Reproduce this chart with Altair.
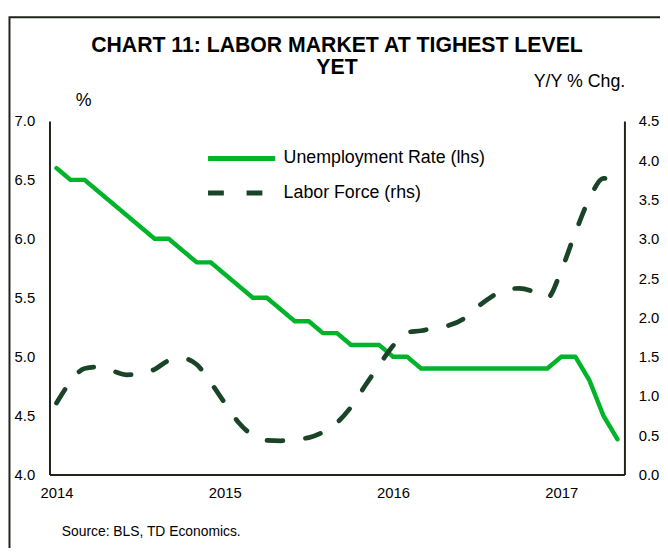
import altair as alt
import pandas as pd

# ---- data (monthly, Jan 2014 - May 2017) ----
x_index = list(range(41))
unemployment_rate = [6.6, 6.5, 6.5, 6.4, 6.3, 6.2, 6.1, 6.0, 6.0, 5.9,
                     5.8, 5.8, 5.7, 5.6, 5.5, 5.5, 5.4, 5.3, 5.3, 5.2,
                     5.2, 5.1, 5.1, 5.1, 5.0, 5.0, 4.9, 4.9, 4.9, 4.9,
                     4.9, 4.9, 4.9, 4.9, 4.9, 4.9, 5.0, 5.0, 4.8, 4.5,
                     4.3]
labor_force = [0.91, 1.18, 1.35, 1.37, 1.32, 1.27, 1.28, 1.34, 1.45, 1.48,
               1.40, 1.17, 0.91, 0.66, 0.50, 0.435, 0.43, 0.45, 0.47, 0.54,
               0.66, 0.86, 1.13, 1.39, 1.64, 1.81, 1.83, 1.87, 1.90, 1.98,
               2.13, 2.26, 2.35, 2.37, 2.33, 2.25, 2.60, 3.08, 3.51, 3.77,
               3.74]
series_names = ["Unemployment Rate (lhs)", "Labor Force (rhs)"]
series_colors = ["#00b42a", "#1a4427"]
year_tick_positions = [0, 12, 24, 36]
year_labels = ["2014", "2015", "2016", "2017"]
left_ticks = [4.0, 4.5, 5.0, 5.5, 6.0, 6.5, 7.0]
right_ticks = [0.0, 0.5, 1.0, 1.5, 2.0, 2.5, 3.0, 3.5, 4.0, 4.5]

df = pd.DataFrame({
    "idx": x_index * 2,
    "value": unemployment_rate + labor_force,
    "series": [series_names[0]] * len(x_index) + [series_names[1]] * len(x_index),
})

FONT = "Liberation Sans"
AXIS_COLOR = "#1e241a"

label_expr = "[" + ",".join(f"'{y}'" for y in year_labels) + "][round(datum.value/12)]"

legend = alt.Legend(
    title=None, orient="none", legendX=158, legendY=28,
    symbolType="stroke", symbolSize=4624, symbolStrokeWidth=5,
    labelFont=FONT, labelFontSize=18, labelColor="black", labelLimit=400,
    labelOffset=6, clipHeight=20, rowPadding=15, direction="vertical",
)

color = alt.Color("series:N", scale=alt.Scale(domain=series_names, range=series_colors),
                  legend=legend)
dash = alt.StrokeDash("series:N", scale=alt.Scale(domain=series_names, range=[[1, 0], [16, 23]]),
                      legend=legend)

x_enc = alt.X(
    "idx:Q",
    scale=alt.Scale(domain=[-0.5, 40.5], nice=False, zero=False),
    axis=alt.Axis(
        values=year_tick_positions, labelExpr=label_expr, ticks=False, grid=False,
        domainColor=AXIS_COLOR, domainWidth=2, labelFont=FONT, labelFontSize=15,
        labelColor="black", labelPadding=11,
        title="Source: BLS, TD Economics.", titleFont=FONT, titleFontSize=14,
        titleFontWeight="normal", titleColor="black", titleX=12, titleY=58,
        titleAlign="left", titleBaseline="middle",
    ),
)

base = alt.Chart(df).encode(x=x_enc, color=color, strokeDash=dash)

unemp = base.transform_filter(alt.datum.series == series_names[0]).mark_line(
    strokeWidth=4.5, strokeJoin="round", strokeCap="round"
).encode(
    y=alt.Y("value:Q", scale=alt.Scale(domain=[4, 7], nice=False, zero=False),
            axis=alt.Axis(orient="left", values=left_ticks, format=".1f", ticks=False,
                          grid=False, domainColor=AXIS_COLOR, domainWidth=2,
                          labelFont=FONT, labelFontSize=15, labelColor="black",
                          labelPadding=15,
                          title="%", titleAngle=0, titleX=34, titleY=-21,
                          titleAlign="center", titleBaseline="middle",
                          titleFont=FONT, titleFontSize=18, titleFontWeight="normal",
                          titleColor="black"))
)

labor = base.transform_filter(alt.datum.series == series_names[1]).mark_line(
    strokeWidth=4.8, strokeCap="round", interpolate="monotone"
).encode(
    y=alt.Y("value:Q", scale=alt.Scale(domain=[0, 4.5], nice=False, zero=False),
            axis=alt.Axis(orient="right", values=right_ticks, format=".1f", ticks=False,
                          grid=False, domainColor=AXIS_COLOR, domainWidth=2,
                          labelFont=FONT, labelFontSize=15, labelColor="black",
                          labelPadding=14,
                          title="Y/Y % Chg.", titleAngle=0, titleX=-46, titleY=-40,
                          titleAlign="center", titleBaseline="middle",
                          titleFont=FONT, titleFontSize=18, titleFontWeight="normal",
                          titleColor="black"))
)

frame = alt.Chart(pd.DataFrame({"f": [0]})).mark_rect(
    fill=None, stroke=AXIS_COLOR, strokeWidth=2
).encode(
    x=alt.value(-40.5), x2=alt.value(800), y=alt.value(-105), y2=alt.value(800)
)

chart = alt.layer(unemp, labor, frame).resolve_scale(y="independent").properties(
    width=582, height=358,
    autosize=alt.AutoSizeParams(type="none"),
    padding={"left": 42, "top": 111, "right": 36, "bottom": 71},
    title=alt.TitleParams(
        text=["CHART 11: LABOR MARKET AT TIGHEST LEVEL", "YET"],
        font=FONT, fontSize=21.5, fontWeight="bold", color="black",
        anchor="middle", lineHeight=22, offset=-63,
    ),
).configure_view(stroke=None)

chart.save("out.html", embed_options={"renderer": "svg", "actions": False})
